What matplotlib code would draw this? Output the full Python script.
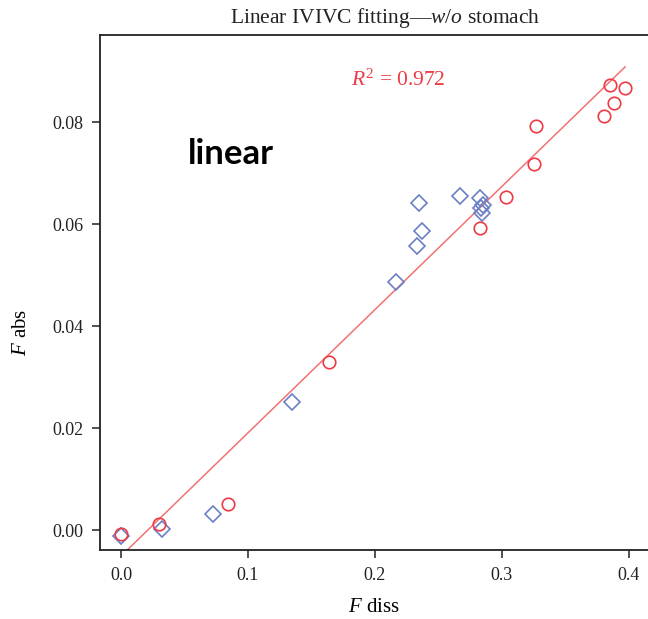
import numpy as np
import matplotlib
matplotlib.use("Agg")
import matplotlib.pyplot as plt

# Data
red_x = [0.000, 0.0296, 0.0844, 0.1635, 0.2827, 0.3031, 0.3252, 0.3265, 0.3801, 0.3850, 0.3880, 0.3969]
red_y = [-0.0008, 0.0012, 0.0051, 0.0330, 0.0592, 0.0654, 0.0718, 0.0793, 0.0812, 0.0873, 0.0837, 0.0867]

blue_x = [0.000, 0.0327, 0.0724, 0.1345, 0.2163, 0.2335, 0.2370, 0.2343, 0.2672, 0.2827, 0.2850, 0.2835, 0.2841]
blue_y = [-0.0011, 0.0003, 0.0032, 0.0252, 0.0486, 0.0557, 0.0586, 0.0641, 0.0655, 0.0652, 0.0637, 0.0631, 0.0621]

fit_slope = 0.2417
fit_intercept = -0.0051
fit_x_end = 0.397
r_squared = 0.972

x_ticks = [0.0, 0.1, 0.2, 0.3, 0.4]
y_ticks = [0.00, 0.02, 0.04, 0.06, 0.08]

RED = "#ee3a44"
LINE_RED = "#f27272"
BLUE = "#6a80c6"

plt.rcParams["font.family"] = ["Liberation Serif", "DejaVu Serif"]
plt.rcParams["mathtext.fontset"] = "custom"
plt.rcParams["mathtext.rm"] = "Liberation Serif"
plt.rcParams["mathtext.it"] = "Liberation Serif:italic"

fig = plt.figure(figsize=(6.48, 6.19), dpi=100)
ax = fig.add_axes([100 / 648, 69 / 619, 548 / 648, 515 / 619])

# fitted line
lx = np.array([-0.02, fit_x_end])
ax.plot(lx, fit_slope * lx + fit_intercept, color=LINE_RED, lw=1.1, zorder=1)

ax.plot(blue_x, blue_y, "D", ms=8.5, mfc="none", mec=BLUE, mew=1.2, zorder=2)
ax.plot(red_x, red_y, "o", ms=9, mfc="none", mec=RED, mew=1.2, zorder=3)

ax.set_xlim(-0.0165, 0.415)
ax.set_ylim(-0.0039, 0.0971)
ax.set_xticks(x_ticks)
ax.set_xticklabels([f"{v:.1f}" for v in x_ticks])
ax.set_yticks(y_ticks)
ax.set_yticklabels([f"{v:.2f}" for v in y_ticks])

ax.spines["right"].set_visible(False)
for s in ["left", "bottom", "top"]:
    ax.spines[s].set_linewidth(1.3)
    ax.spines[s].set_color("#222222")
ax.tick_params(direction="out", length=6, width=1.1, labelsize=13, colors="#222222", pad=6)

ax.set_xlabel(r"$\mathit{F}$ diss", fontsize=15, labelpad=10)
ax.set_ylabel(r"$\mathit{F}$ abs", fontsize=15)
ax.yaxis.set_label_coords(-0.125, 0.423)

fig.text(385 / 648, 1 - 18 / 619, r"Linear IVIVC fitting—$\mathit{w/o}$ stomach",
         ha="center", va="center", fontsize=15.5, color="#222222")
ax.text(0.218, 0.0883, rf"$R^2$ = {r_squared}", color=RED, fontsize=15.5,
        ha="center", va="center")
ax.text(0.0866, 0.0738, "linear", family=["Lato", "DejaVu Sans"], weight="bold",
        fontsize=25, ha="center", va="center", color="black")

fig.savefig("out.png", dpi=100)
